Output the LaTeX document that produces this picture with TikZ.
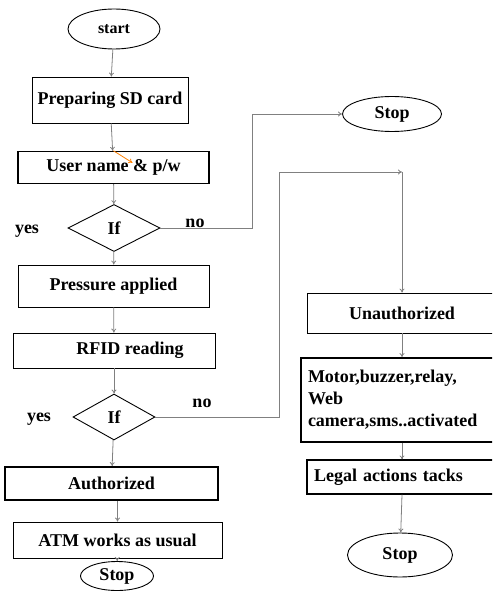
\documentclass[tikz,border=0pt]{standalone}
\usepackage{fontspec}
\setmainfont{Liberation Serif}
\usetikzlibrary{shapes.geometric,arrows.meta}
\begin{document}
\begin{tikzpicture}[x=1pt, y=-1pt,
        font=\fontsize{18}{22}\selectfont\bfseries,
        box/.style={draw, line width=0.8pt, inner sep=0pt},
        boldbox/.style={box, line width=1.8pt},
        oval/.style={draw, ellipse, line width=0.9pt, inner sep=0pt},
        test/.style={draw, diamond, line width=0.9pt, inner sep=0pt},
        flow/.style={draw=gray, line width=0.8pt, -{To[length=4pt,width=5pt]}},
        lbl/.style={inner sep=0pt}]
        \useasboundingbox (0,0) rectangle (492,593);
        \clip (0,0) rectangle (492,593);
        \node [oval, minimum width=92pt, minimum height=40pt, font=\fontsize{16}{19}\selectfont\bfseries] (start) at (114,29) {start};
        \node [box, minimum width=156pt, minimum height=46pt] (prep) at (110,100) {Preparing SD card};
        \node [boldbox, line width=1.4pt, minimum width=191pt, minimum height=32pt] (user) at (113.5,167.5) {User name \& p/w};
        \node [test, minimum width=92pt, minimum height=47pt] (if1) at (114,228) {If};
        \node [lbl] (yes1) at (27,231) {yes};
        \node [lbl] (no1) at (195,223) {no};
        \node [oval, minimum width=99pt, minimum height=35pt] (stop1) at (392,114) {Stop};
        \node [box, minimum width=191pt, minimum height=42pt] (press) at (113.5,286) {Pressure applied};
        \node [box, minimum width=202pt, minimum height=35pt] (rfid) at (114,350.5) {\hspace*{32pt}RFID reading};
        \node [test, minimum width=82pt, minimum height=46pt] (if2) at (114,417) {If};
        \node [lbl] (yes2) at (39,419) {yes};
        \node [lbl] (no2) at (202,403) {no};
        \node [boldbox, minimum width=213pt, minimum height=33pt] (auth) at (111.5,483.5) {Authorized};
        \node [box, minimum width=209pt, minimum height=36pt] (atm) at (117.5,540) {ATM works as usual};
        \node [oval, minimum width=73pt, minimum height=29pt] (stop2) at (117,576) {Stop};
        \node [box, minimum width=203pt, minimum height=40pt] (unauth) at (408.5,313) {Unauthorized\hspace*{13pt}};
        \node [boldbox, minimum width=209pt, minimum height=84pt, text width=195pt, align=left] (motor) at (405.5,400) {Motor,buzzer,relay,\\Web\\camera,sms..activated};
        \node [boldbox, line width=1.2pt, minimum width=203pt, minimum height=34pt, text width=189pt, align=left] (legal) at (408.5,477) {Legal actions tacks};
        \node [oval, minimum width=105pt, minimum height=44pt] (stop3) at (400,555) {Stop};
        \coordinate (k1) at (252,228);
        \coordinate (k2) at (279,417);
        \coordinate (k3) at (402,172);
        \draw [flow] (start) -- (prep);
        \draw [flow] (prep) -- (user);
        \draw [flow, draw=orange] (user.north) -- ++(19,12);
        \draw [flow] (user) -- (if1);
        \draw [flow] (if1) -- (press);
        \draw [flow] (press) -- (rfid);
        \draw [flow] (rfid) -- (if2);
        \draw [flow] (if2) -- (auth);
        \draw [flow] (atm.north |- auth.south) -- (atm.north);
        \draw [flow] (atm) -- (stop2);
        \draw [flow] (if1.east) -- (k1) |- (stop1.west);
        \draw [flow] (if2.east) -- (k2) |- (k3);
        \draw [flow] (k3) -- (unauth.north -| k3);
        \draw [flow] (unauth.south -| k3) -- (motor.north -| k3);
        \draw [flow] (motor.south -| k3) -- (legal.north -| k3);
        \draw [flow] (legal.south -| k3) -- (stop3);
\end{tikzpicture}
\end{document}
